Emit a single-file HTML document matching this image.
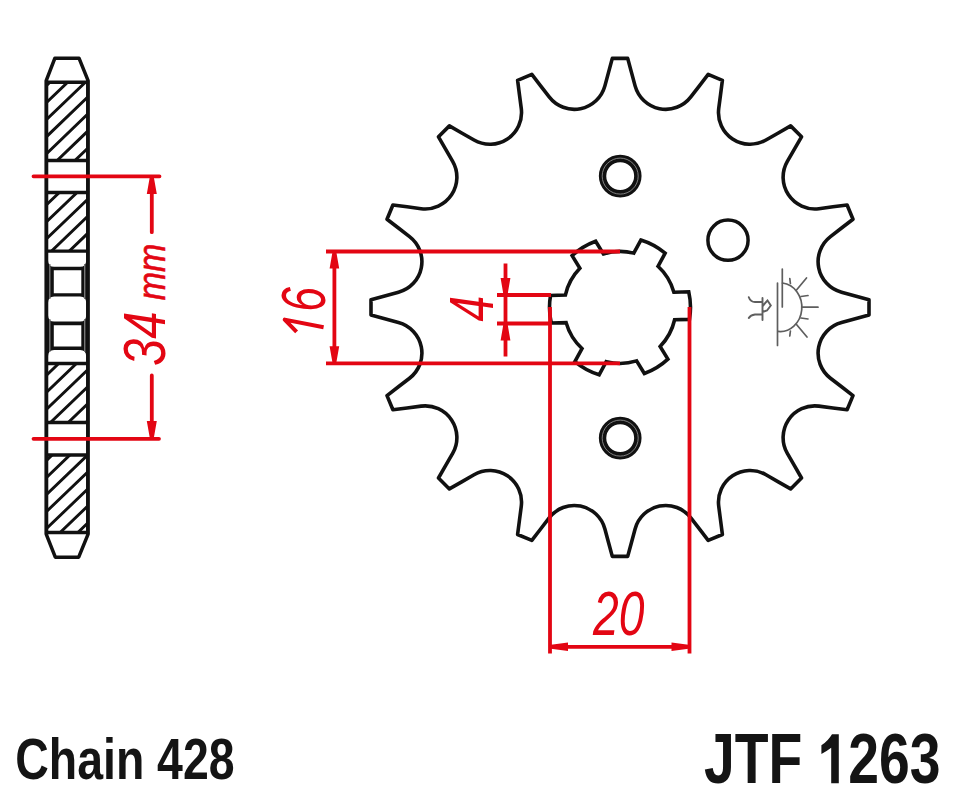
<!DOCTYPE html>
<html><head><meta charset="utf-8"><style>
html,body{margin:0;padding:0;background:#fff;}
svg{display:block;}
</style></head><body>
<svg width="958" height="800" viewBox="0 0 958 800">
<rect width="958" height="800" fill="#fff"/>
<path d="M54.9 58.2L79 58.2L87.9 80.2L87.9 534.6L78.7 557.2L55.3 557.2L46.4 534.6L46.4 80.2Z" fill="#fff" stroke="#111" stroke-width="3.5" stroke-linejoin="round"/>
<clipPath id="hb0"><rect x="46.4" y="82.3" width="41.50000000000001" height="78.2"/></clipPath>
<clipPath id="hb1"><rect x="46.4" y="192.4" width="41.50000000000001" height="58.79999999999998"/></clipPath>
<clipPath id="hb2"><rect x="46.4" y="363.4" width="41.50000000000001" height="59.200000000000045"/></clipPath>
<clipPath id="hb3"><rect x="46.4" y="455.0" width="41.50000000000001" height="77.60000000000002"/></clipPath>
<path clip-path="url(#hb0)" d="M41.4 90.42L92.9 40.98M41.4 107.46L92.9 58.02M41.4 124.5L92.9 75.06M41.4 141.54L92.9 92.1M41.4 158.58L92.9 109.14M41.4 175.62L92.9 126.18M41.4 192.66L92.9 143.22M41.4 209.7L92.9 160.26" stroke="#111" stroke-width="2.9" fill="none"/>
<path d="M46.4 82.3H87.9M46.4 160.5H87.9" stroke="#111" stroke-width="3.5"/>
<path clip-path="url(#hb1)" d="M41.4 192.66L92.9 143.22M41.4 209.7L92.9 160.26M41.4 226.74L92.9 177.3M41.4 243.78L92.9 194.34M41.4 260.82L92.9 211.38M41.4 277.86L92.9 228.42M41.4 294.9L92.9 245.46" stroke="#111" stroke-width="2.9" fill="none"/>
<path d="M46.4 192.4H87.9M46.4 251.2H87.9" stroke="#111" stroke-width="3.5"/>
<path clip-path="url(#hb2)" d="M41.4 363.06L92.9 313.62M41.4 380.1L92.9 330.66M41.4 397.14L92.9 347.7M41.4 414.18L92.9 364.74M41.4 431.22L92.9 381.78M41.4 448.26L92.9 398.82M41.4 465.3L92.9 415.86" stroke="#111" stroke-width="2.9" fill="none"/>
<path d="M46.4 363.4H87.9M46.4 422.6H87.9" stroke="#111" stroke-width="3.5"/>
<path clip-path="url(#hb3)" d="M41.4 465.3L92.9 415.86M41.4 482.34L92.9 432.9M41.4 499.38L92.9 449.94M41.4 516.42L92.9 466.98M41.4 533.46L92.9 484.02M41.4 550.5L92.9 501.06M41.4 567.54L92.9 518.1M41.4 584.58L92.9 535.14" stroke="#111" stroke-width="2.9" fill="none"/>
<path d="M46.4 455.0H87.9M46.4 532.6H87.9" stroke="#111" stroke-width="3.5"/>
<rect x="46.4" y="251.2" width="41.50000000000001" height="112.19999999999999" fill="#111"/>
<path d="M48.15 252.8H86.15Q86.15 252.8 86.15 252.8V260.8Q86.15 266.8 80.15 266.8H54.15Q48.15 266.8 48.15 260.8V252.8Q48.15 252.8 48.15 252.8ZM54.15 296.4H80.15Q86.15 296.4 86.15 302.4V315.6Q86.15 321.6 80.15 321.6H54.15Q48.15 321.6 48.15 315.6V302.4Q48.15 296.4 54.15 296.4ZM54.15 350H80.15Q86.15 350 86.15 356V361.8Q86.15 361.8 86.15 361.8H48.15Q48.15 361.8 48.15 361.8V356Q48.15 350 54.15 350ZM53.8 270.2H81.3V293.2H53.8ZM53.8 325.2H81.3V346.6H53.8Z" fill="#fff"/>
<rect x="49.1" y="264" width="1.4" height="35" fill="#777"/>
<rect x="84.0" y="264" width="1.4" height="35" fill="#777"/>
<rect x="49.1" y="319" width="1.4" height="33" fill="#777"/>
<rect x="84.0" y="319" width="1.4" height="33" fill="#777"/>
<path d="M46.4 80.2V534.6M87.9 80.2V534.6" stroke="#111" stroke-width="3.5"/>
<path d="M612.3 58.4L627.7 58.4C630.14 67.46 632.66 76.79 635.1 85.85A31.7 31.7 0 0 0 690.83 96.94C696.55 89.5 702.45 81.84 708.17 74.41L722.4 80.3C721.19 89.61 719.95 99.19 718.73 108.5A31.7 31.7 0 0 0 765.98 140.06C774.11 135.39 782.49 130.56 790.62 125.89L801.51 136.78C796.84 144.91 792.01 153.29 787.34 161.42A31.7 31.7 0 0 0 818.9 208.67C828.21 207.45 837.79 206.21 847.1 205L852.99 219.23C845.56 224.95 837.9 230.85 830.46 236.57A31.7 31.7 0 0 0 841.55 292.3C850.61 294.74 859.94 297.26 869 299.7L869 315.1C859.94 317.54 850.61 320.06 841.55 322.5A31.7 31.7 0 0 0 830.46 378.23C837.9 383.95 845.56 389.85 852.99 395.57L847.1 409.8C837.79 408.59 828.21 407.35 818.9 406.13A31.7 31.7 0 0 0 787.34 453.38C792.01 461.51 796.84 469.89 801.51 478.02L790.62 488.91C782.49 484.24 774.11 479.41 765.98 474.74A31.7 31.7 0 0 0 718.73 506.3C719.95 515.61 721.19 525.19 722.4 534.5L708.17 540.39C702.45 532.96 696.55 525.3 690.83 517.86A31.7 31.7 0 0 0 635.1 528.95C632.66 538.01 630.14 547.34 627.7 556.4L612.3 556.4C609.86 547.34 607.34 538.01 604.9 528.95A31.7 31.7 0 0 0 549.17 517.86C543.45 525.3 537.55 532.96 531.83 540.39L517.6 534.5C518.81 525.19 520.05 515.61 521.27 506.3A31.7 31.7 0 0 0 474.02 474.74C465.89 479.41 457.51 484.24 449.38 488.91L438.49 478.02C443.16 469.89 447.99 461.51 452.66 453.38A31.7 31.7 0 0 0 421.1 406.13C411.79 407.35 402.21 408.59 392.9 409.8L387.01 395.57C394.44 389.85 402.1 383.95 409.54 378.23A31.7 31.7 0 0 0 398.45 322.5C389.39 320.06 380.06 317.54 371 315.1L371 299.7C380.06 297.26 389.39 294.74 398.45 292.3A31.7 31.7 0 0 0 409.54 236.57C402.1 230.85 394.44 224.95 387.01 219.23L392.9 205C402.21 206.21 411.79 207.45 421.1 208.67A31.7 31.7 0 0 0 452.66 161.42C447.99 153.29 443.16 144.91 438.49 136.78L449.38 125.89C457.51 130.56 465.89 135.39 474.02 140.06A31.7 31.7 0 0 0 521.27 108.5C520.05 99.19 518.81 89.61 517.6 80.3L531.83 74.41C537.55 81.84 543.45 89.5 549.17 96.94A31.7 31.7 0 0 0 604.9 85.85C607.34 76.79 609.86 67.46 612.3 58.4Z" fill="none" stroke="#111" stroke-width="3.6" stroke-linejoin="round"/>
<path d="M673.89 292.18L688.75 291.79A70.5 70.5 0 0 1 689.47 319.39L674.62 319.77A56 56 0 0 1 660.12 346.46L667.89 359.14A70.5 70.5 0 0 1 644.36 373.56L636.59 360.89A56 56 0 0 1 606.23 361.68L599.14 374.74A70.5 70.5 0 0 1 574.88 361.57L581.98 348.51A56 56 0 0 1 566.11 322.62L551.25 323.01A70.5 70.5 0 0 1 550.53 295.41L565.38 295.03A56 56 0 0 1 579.88 268.34L572.11 255.66A70.5 70.5 0 0 1 595.64 241.24L603.41 253.91A56 56 0 0 1 633.77 253.12L640.86 240.06A70.5 70.5 0 0 1 665.12 253.23L658.02 266.29A56 56 0 0 1 673.89 292.18Z" fill="none" stroke="#111" stroke-width="3.6" stroke-linejoin="miter"/>
<g fill="none" stroke="#111" stroke-width="3.2">
<circle cx="728" cy="240.2" r="20.1" stroke-width="3.5"/>
<circle cx="620.2" cy="176.1" r="17.65" stroke-width="7.4"/>
<circle cx="620.2" cy="438.1" r="17.65" stroke-width="7.4"/>
<circle cx="620.2" cy="176.1" r="18.0" stroke-width="0.9" stroke="#8a8a8a"/>
<circle cx="620.2" cy="438.1" r="18.0" stroke-width="0.9" stroke="#8a8a8a"/>
</g>

<g stroke="#5e5e5e" stroke-width="1.7" fill="none" stroke-linecap="round">
<path d="M782.3 269V307M777.5 283V345.5"/>
<path d="M782.5 283A21.5 24.2 0 0 1 778 331.4"/>
<path d="M796.5 290L806.5 278M801.8 307.2H818M796.5 324.5L807 337"/>
<path d="M789.8 278.5L790.4 283.5M801 296.5L808 295.5M801 318L808 319M789.8 336L790.4 331"/>
</g>
<g stroke="#5e5e5e" stroke-width="1.9" fill="none" stroke-linecap="round">
<path d="M748.8 297.2Q750.5 302 755 302H762.5M748.8 318Q750.5 315 755 314.5H762.5M762.5 298V320M762.5 306.5Q765 303 767.5 300.5L770.8 305.5L767 310.5L762.5 312"/>
</g>

<path d="M33.5 176.3H159.5M33.5 438.8H159M151.8 185V232.2M151.8 375.5V430" stroke="#e30613" stroke-width="3.8" stroke-linecap="round" fill="none"/>
<path d="M153.8 177L156.8 194L146.8 194L149.8 177ZM149.8 438L146.8 421L156.8 421L153.8 438Z" fill="#e30613"/>
<path d="M326 251.5H620M326 363.3H620M334.4 262V353" stroke="#e30613" stroke-width="3.8" fill="none"/>
<path d="M336.4 252.5L339.2 268.5L329.6 268.5L332.4 252.5ZM332.4 362.3L329.6 346.3L339.2 346.3L336.4 362.3Z" fill="#e30613"/>
<path d="M497 295H551M497 323.5H551M505.5 263.5V356.5" stroke="#e30613" stroke-width="3.8" fill="none"/>
<path d="M503.5 295L500.6 278L510.4 278L507.5 295ZM507.5 323.5L510.4 340.5L500.6 340.5L503.5 323.5Z" fill="#e30613"/>
<path d="M550 307V653.5M689.5 307V653.5M560 646.8H680" stroke="#e30613" stroke-width="3.8" fill="none"/>
<path d="M551 644.8L568 642.6L568 651L551 648.8ZM688.5 648.8L671.5 651L671.5 642.6L688.5 644.8Z" fill="#e30613"/>
<text x="0" y="0" transform="translate(165.2 366.1) rotate(-90) scale(0.82 1)" font-family="Liberation Sans, sans-serif" font-style="italic" font-weight="normal" font-size="59.73" fill="#e30613">34</text>
<text x="0" y="0" transform="translate(165.4 300.3) rotate(-90) scale(0.858 1)" font-family="Liberation Sans, sans-serif" font-style="italic" font-weight="normal" font-size="39.64" fill="#e30613" stroke="#e30613" stroke-width="0.6">mm</text>
<text x="0" y="0" transform="translate(325.4 311.7) rotate(-90) scale(0.71 1)" font-family="Liberation Sans, sans-serif" font-style="italic" font-weight="normal" font-size="62.61" fill="#e30613">6</text>
<path d="M323.6 327.2L284.7 319.6L296.6 331.8" fill="none" stroke="#e30613" stroke-width="4" stroke-linejoin="round"/>
<text x="0" y="0" transform="translate(492.9 321.5) rotate(-90) scale(0.733 1)" font-family="Liberation Sans, sans-serif" font-style="italic" font-weight="normal" font-size="62.89" fill="#e30613">4</text>
<text x="0" y="0" transform="translate(593.1 635.2) rotate(0) scale(0.744 1)" font-family="Liberation Sans, sans-serif" font-style="italic" font-weight="normal" font-size="62.15" fill="#e30613">20</text>
<text x="0" y="0" transform="translate(15.3 778.6) rotate(0) scale(0.819 1)" font-family="Liberation Sans, sans-serif" font-style="normal" font-weight="bold" font-size="56.69" fill="#141414">Chain 428</text>
<text x="0" y="0" transform="translate(703.9 783.2) rotate(0) scale(0.79 1)" font-family="Liberation Sans, sans-serif" font-style="normal" font-weight="bold" font-size="70.0" fill="#141414">JTF 1263</text>
<rect x="819.5" y="730" width="29" height="56" fill="#fff"/>
<path d="M838.8 734.2L832 734.2Q828 741 821.4 745.3L821.4 753.9Q827.5 750.8 831.2 747.8L831.2 783.2L838.8 783.2Z" fill="#141414"/>
</svg>
</body></html>
